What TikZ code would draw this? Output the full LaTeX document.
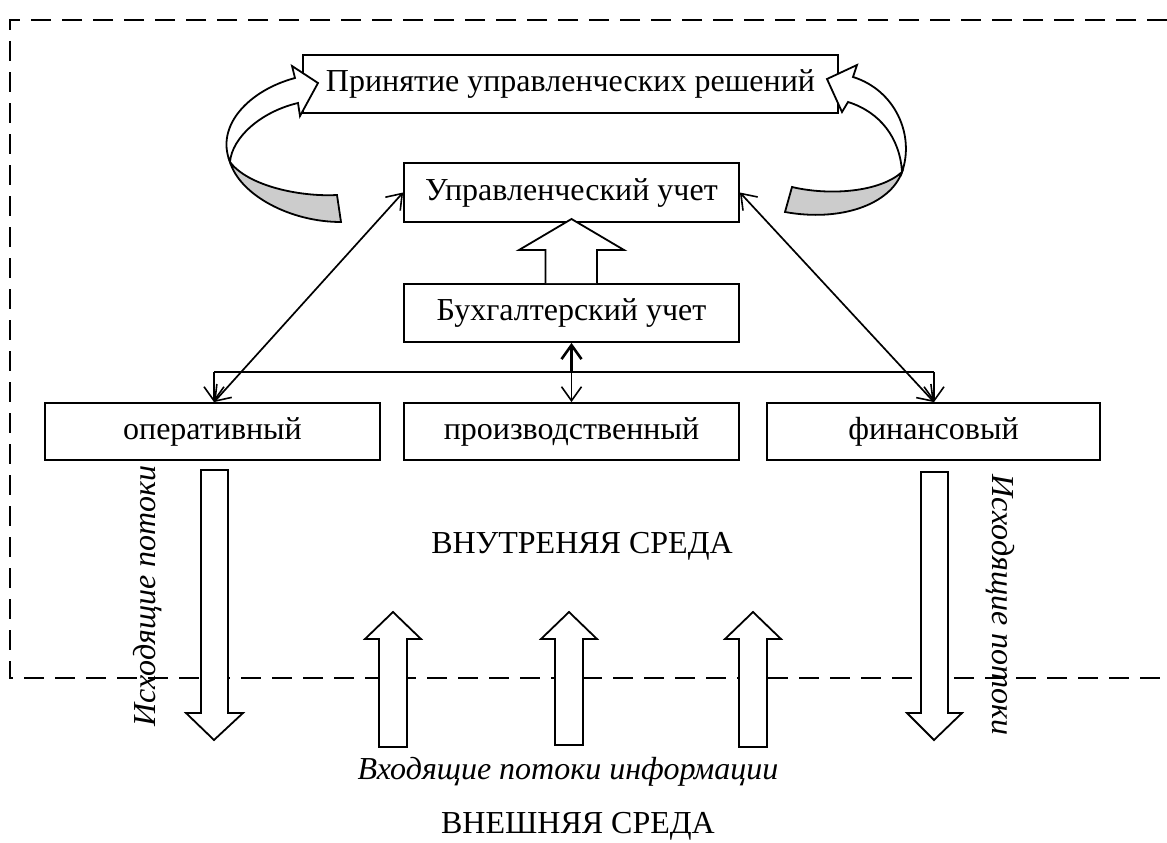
\documentclass[tikz,border=0pt]{standalone}
\usepackage{fontspec}
\setmainfont{Liberation Serif}
\usetikzlibrary{arrows.meta}
\begin{document}
\begin{tikzpicture}[x=1pt,y=-1pt,
  every node/.style={font=\fontsize{32}{38}\selectfont},
  box/.style={draw, line width=1.8pt, fill=white, inner sep=0pt, minimum height=58pt},
  conn/.style={line width=1.7pt},
  >={Straight Barb[length=14pt,width=20pt,line width=1.6pt]},
  blockarrow/.style={draw, line width=1.8pt, fill=white, line join=miter},
  curvewhite/.style={draw, line width=1.8pt, fill=white, line join=miter},
  curvegray/.style={draw, line width=1.8pt, fill=gray!40, line join=miter},
  frame/.style={line width=2.5pt, dash pattern=on 20pt off 11pt},
  ital/.style={font=\fontsize{32}{38}\selectfont\itshape}]
\useasboundingbox (0,0) rectangle (1167,843);
\fill[white] (0,0) rectangle (1167,843);

% dashed frame
\draw[frame] (1167,20) -- (10,20) -- (10,678) -- (1167,678);

% boxes
\node[box, minimum width=535pt] (pur) at (570.5,84) {Принятие управленческих решений};
\node[box, minimum width=335pt, minimum height=59pt] (uu) at (571.5,192.5) {Управленческий учет};
\node[box, minimum width=335pt] (bu) at (571.5,313) {Бухгалтерский учет};
\node[box, minimum width=335pt, minimum height=57pt] (op) at (212.5,431.5) {оперативный};
\node[box, minimum width=335pt, minimum height=57pt] (pr) at (571.5,431.5) {производственный};
\node[box, minimum width=333pt, minimum height=57pt] (fin) at (933.5,431.5) {финансовый};

% connectors
\coordinate (hl) at (214,372);
\coordinate (hr) at (934,372);
\coordinate (hm) at (571.5,372);
\draw[conn] (hl) -- (hr);
\draw[conn,->] (hl) -- (hl |- op.north);
\draw[conn,->] (hr) -- (hr |- fin.north);
\draw[conn,<->] (hl |- op.north) -- (uu.west);
\draw[conn,<->] (hr |- fin.north) -- (uu.east);
\draw[line width=3pt,->,>={Straight Barb[length=14pt,width=20pt,line width=2.6pt]}] (hm) -- (bu.south);
\draw[conn,->] (hm) -- (pr.north);

% block arrow up between boxes
\draw[blockarrow] (545.5,283) -- (545.5,250) -- (519,250) -- (571.5,219) -- (624,250) -- (597,250) -- (597,283);

% curved arrows
\draw[curvewhite] (318,83) -- (292,66) -- (295,78)
  .. controls (250,90) and (215,125) .. (230,162)
  .. controls (232,138) and (260,112) .. (298,103) -- (300,116) -- cycle;
\draw[curvegray] (230,162) .. controls (240,195) and (290,222) .. (341,222)
  -- (337,195) .. controls (300,197) and (248,186) .. (230,162) -- cycle;

\draw[curvewhite] (827,79) -- (857,65) -- (853,77)
  .. controls (895,90) and (915,135) .. (902,172)
  .. controls (900,138) and (880,112) .. (848,102) -- (842,112) -- cycle;
\draw[curvegray] (902,172) .. controls (890,205) and (840,222) .. (785,212)
  -- (792,187) .. controls (830,196) and (880,192) .. (902,172) -- cycle;

% outgoing arrows
\draw[blockarrow] (201,470) -- (228,470) -- (228,713) -- (243,713) -- (214,740) -- (186,713) -- (201,713) -- cycle;
\draw[blockarrow] (921,472) -- (948,472) -- (948,713) -- (962,713) -- (934,740) -- (907,713) -- (921,713) -- cycle;

% incoming arrows
\draw[blockarrow] (379,747) -- (379,639) -- (365,639) -- (393,612) -- (421,639) -- (407,639) -- (407,747) -- cycle;
\draw[blockarrow] (555,745) -- (555,639) -- (541,639) -- (569,612) -- (597,639) -- (583,639) -- (583,745) -- cycle;
\draw[blockarrow] (739,747) -- (739,639) -- (725,639) -- (753,612) -- (781,639) -- (767,639) -- (767,747) -- cycle;

% texts
\node (vn) at (582,546) {ВНУТРЕНЯЯ СРЕДА};
\node[ital] (vx) at (568,772) {Входящие потоки информации};
\node (ext) at (578,826) {ВНЕШНЯЯ СРЕДА};
\node[ital, rotate=90] (isl) at (148,596) {Исходящие потоки};
\node[ital, rotate=-90] (isr) at (1000,605) {Исходящие потоки};
\end{tikzpicture}
\end{document}
